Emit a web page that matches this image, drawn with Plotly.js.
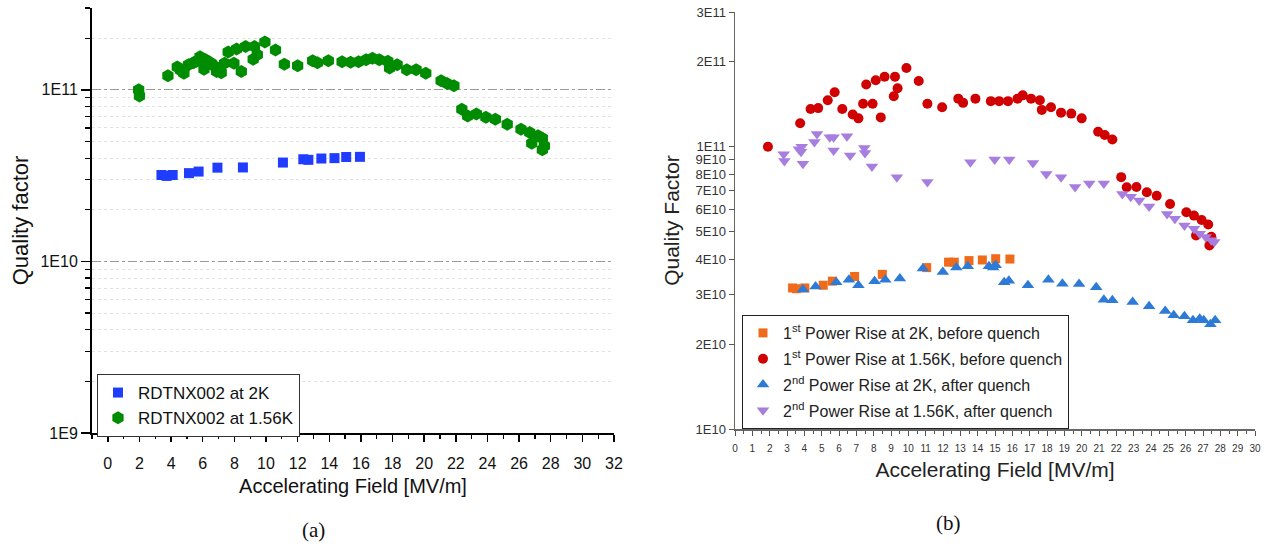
<!DOCTYPE html>
<html>
<head>
<meta charset="utf-8">
<script src="https://cdn.plot.ly/plotly-3.0.1.min.js"></script>
<style>html,body{margin:0;padding:0;background:#fff;}#chart{width:1271px;height:549px;}</style>
</head>
<body>
<div id="chart"></div>
<script>
// ---------- Panel (a) ----------
const aSeriesNames = ['RDTNX002 at 2K', 'RDTNX002 at 1.56K'];
const aE2K = [3.39, 3.72, 4.1, 5.13, 5.74, 6.93, 8.54, 11.07, 12.36, 12.68, 13.5, 14.33, 15.07, 15.94];
const aQ2K = [3.19e10, 3.15e10, 3.19e10, 3.27e10, 3.34e10, 3.52e10, 3.53e10, 3.77e10, 3.94e10, 3.91e10, 3.98e10, 4.0e10, 4.06e10, 4.07e10];
const aE156K = [1.95, 2.0, 3.8, 4.39, 4.6, 4.81, 5.1, 5.41, 5.6, 5.83, 6.08, 6.19, 6.35, 6.54, 6.7, 6.88, 7.17, 7.38, 7.61, 7.97, 8.14, 8.44, 8.71, 9.19, 9.27, 9.45, 9.93, 10.6, 11.16, 12.0, 12.95, 13.25, 13.94, 14.81, 15.35, 15.85, 16.33, 16.73, 17.16, 17.7, 17.81, 18.29, 18.9, 19.49, 20.1, 21.07, 21.45, 21.88, 22.38, 22.75, 23.3, 23.9, 24.5, 25.25, 26.12, 26.67, 26.8, 27.2, 27.47, 27.6, 27.47];
const aQ156K = [1.0e11, 0.92e11, 1.21e11, 1.36e11, 1.30e11, 1.25e11, 1.40e11, 1.44e11, 1.47e11, 1.56e11, 1.32e11, 1.50e11, 1.46e11, 1.43e11, 1.38e11, 1.28e11, 1.26e11, 1.43e11, 1.66e11, 1.43e11, 1.73e11, 1.28e11, 1.79e11, 1.51e11, 1.79e11, 1.60e11, 1.90e11, 1.71e11, 1.41e11, 1.38e11, 1.48e11, 1.44e11, 1.48e11, 1.46e11, 1.45e11, 1.46e11, 1.50e11, 1.53e11, 1.50e11, 1.47e11, 1.34e11, 1.40e11, 1.31e11, 1.31e11, 1.25e11, 1.13e11, 1.09e11, 1.055e11, 0.771e11, 0.705e11, 0.724e11, 0.693e11, 0.674e11, 0.63e11, 0.59e11, 0.564e11, 0.489e11, 0.54e11, 0.522e11, 0.471e11, 0.447e11];
const aYTickVals = [1e9, 1e10, 1e11];
const aYTickText = ['1E9', '1E10', '1E11'];
const aYMinorVals = [2e9, 3e9, 4e9, 5e9, 6e9, 7e9, 8e9, 9e9, 2e10, 3e10, 4e10, 5e10, 6e10, 7e10, 8e10, 9e10, 2e11, 3e11];

// ---------- Panel (b) ----------
const bSeriesNames = [
  '1<sup>st</sup> Power Rise at 2K, before quench',
  '1<sup>st</sup> Power Rise at 1.56K, before quench',
  '2<sup>nd</sup> Power Rise at 2K, after quench',
  '2<sup>nd</sup> Power Rise at 1.56K, after quench'
];
const bE1st2K = [3.32, 3.54, 4.03, 5.09, 5.62, 6.9, 8.5, 11.06, 12.32, 12.65, 13.5, 14.27, 15.04, 15.86];
const bQ1st2K = [3.16e10, 3.14e10, 3.16e10, 3.23e10, 3.34e10, 3.47e10, 3.53e10, 3.73e10, 3.90e10, 3.90e10, 3.95e10, 3.97e10, 4.01e10, 4.0e10];
const bE1st156K = [1.9, 3.76, 4.36, 4.8, 5.35, 5.75, 6.19, 6.79, 7.12, 7.39, 7.57, 7.94, 8.12, 8.41, 8.63, 9.16, 9.23, 9.38, 9.89, 10.6, 11.1, 11.95, 12.88, 13.16, 13.87, 14.76, 15.24, 15.75, 16.3, 16.6, 17.08, 17.59, 17.7, 18.23, 18.81, 19.4, 20.0, 20.95, 21.33, 21.77, 22.28, 22.6, 23.16, 23.76, 24.33, 25.1, 26.04, 26.48, 26.92, 27.3, 27.48, 26.6, 27.37];
const bQ1st156K = [1.0e11, 1.21e11, 1.36e11, 1.37e11, 1.46e11, 1.56e11, 1.36e11, 1.30e11, 1.26e11, 1.42e11, 1.66e11, 1.42e11, 1.72e11, 1.27e11, 1.77e11, 1.51e11, 1.77e11, 1.61e11, 1.90e11, 1.71e11, 1.42e11, 1.38e11, 1.48e11, 1.43e11, 1.48e11, 1.45e11, 1.45e11, 1.45e11, 1.48e11, 1.52e11, 1.48e11, 1.46e11, 1.35e11, 1.38e11, 1.32e11, 1.31e11, 1.26e11, 1.13e11, 1.10e11, 1.06e11, 0.78e11, 0.718e11, 0.72e11, 0.69e11, 0.67e11, 0.627e11, 0.586e11, 0.57e11, 0.55e11, 0.53e11, 0.48e11, 0.485e11, 0.447e11];
const bE2nd2K = [3.92, 4.65, 5.84, 6.57, 7.12, 8.05, 8.67, 9.51, 10.84, 11.99, 12.77, 13.43, 14.65, 14.9, 15.04, 15.53, 15.8, 16.9, 18.08, 18.89, 19.85, 20.84, 21.28, 21.77, 22.94, 23.89, 24.82, 25.31, 25.93, 26.42, 26.81, 27.04, 27.43, 27.7];
const bQ2nd2K = [3.12e10, 3.2e10, 3.31e10, 3.38e10, 3.23e10, 3.34e10, 3.38e10, 3.41e10, 3.70e10, 3.60e10, 3.73e10, 3.77e10, 3.77e10, 3.73e10, 3.80e10, 3.31e10, 3.35e10, 3.23e10, 3.38e10, 3.27e10, 3.26e10, 3.18e10, 2.87e10, 2.86e10, 2.82e10, 2.72e10, 2.62e10, 2.53e10, 2.51e10, 2.43e10, 2.46e10, 2.43e10, 2.35e10, 2.43e10];
const bE2nd156K = [2.81, 2.85, 3.69, 3.81, 3.92, 3.85, 4.58, 4.73, 5.47, 5.69, 5.69, 6.46, 6.64, 7.46, 7.5, 7.9, 9.34, 11.1, 13.58, 14.98, 15.82, 17.19, 17.96, 18.81, 19.62, 20.44, 21.28, 22.35, 22.83, 23.32, 23.89, 24.93, 25.38, 25.93, 26.48, 26.81, 27.15, 27.48, 27.65];
const bQ2nd156K = [0.94e11, 0.89e11, 0.98e11, 0.96e11, 0.87e11, 1.0e11, 1.04e11, 1.11e11, 1.08e11, 1.08e11, 0.97e11, 1.09e11, 0.93e11, 0.99e11, 0.95e11, 0.85e11, 0.78e11, 0.75e11, 0.88e11, 0.90e11, 0.90e11, 0.875e11, 0.80e11, 0.78e11, 0.72e11, 0.74e11, 0.74e11, 0.68e11, 0.665e11, 0.645e11, 0.614e11, 0.578e11, 0.556e11, 0.526e11, 0.512e11, 0.492e11, 0.479e11, 0.466e11, 0.46e11];
const bYTickVals = [1e10, 2e10, 3e10, 4e10, 5e10, 6e10, 7e10, 8e10, 9e10, 1e11, 2e11, 3e11];
const bYTickText = ['1E10', '2E10', '3E10', '4E10', '5E10', '6E10', '7E10', '8E10', '9E10', '1E11', '2E11', '3E11'];

const SANS = 'Liberation Sans, Arial, sans-serif';
const W = 1271, H = 549;
const px = v => v / W;
const py = v => 1 - v / H;

const traces = [
  {x: aE2K, y: aQ2K, name: aSeriesNames[0], type: 'scatter', mode: 'markers', xaxis: 'x', yaxis: 'y', legend: 'legend',
   marker: {symbol: 'square', size: 10, color: '#1f3cff'}},
  {x: aE156K, y: aQ156K, name: aSeriesNames[1], type: 'scatter', mode: 'markers', xaxis: 'x', yaxis: 'y', legend: 'legend',
   marker: {symbol: 'hexagon', size: 13, color: '#008c00'}},
  {x: bE1st2K, y: bQ1st2K, name: bSeriesNames[0], type: 'scatter', mode: 'markers', xaxis: 'x2', yaxis: 'y2', legend: 'legend2', legendgroup: 'g1',
   marker: {symbol: 'square', size: 9, color: '#f06a1c'}},
  {x: bE1st156K, y: bQ1st156K, name: bSeriesNames[1], type: 'scatter', mode: 'markers', xaxis: 'x2', yaxis: 'y2', legend: 'legend2', legendgroup: 'g2',
   marker: {symbol: 'circle', size: 10, color: '#d00000'}},
  {x: bE2nd2K, y: bQ2nd2K, name: bSeriesNames[2], type: 'scatter', mode: 'markers', xaxis: 'x2', yaxis: 'y2', legend: 'legend2', legendgroup: 'g3',
   marker: {symbol: 'triangle-up', size: 11, color: '#2d7bd6'}},
  {x: bE2nd156K, y: bQ2nd156K, name: bSeriesNames[3], type: 'scatter', mode: 'markers', xaxis: 'x2', yaxis: 'y2', legend: 'legend2', legendgroup: 'g4',
   marker: {symbol: 'triangle-down', size: 11, color: '#a77de0'}}
];

const layout = {
  width: W, height: H,
  margin: {l: 0, r: 0, t: 0, b: 0},
  paper_bgcolor: '#ffffff', plot_bgcolor: 'rgba(0,0,0,0)',
  font: {family: SANS, color: '#111'},
  showlegend: true,
  xaxis: {
    domain: [px(92), px(614)], anchor: 'y', range: [-1, 32],
    tick0: 0, dtick: 2, ticks: 'outside', ticklen: 7, tickwidth: 1.5, tickcolor: '#000',
    showline: true, linecolor: '#000', linewidth: 2, showgrid: false, zeroline: false,
    tickfont: {size: 16, color: '#111'}, ticklabelstandoff: 8,
    minor: {dtick: 1, ticks: 'outside', ticklen: 4, tickwidth: 1.2, tickcolor: '#000', showgrid: false},
    title: {text: 'Accelerating Field [MV/m]', font: {size: 20, color: '#111'}, standoff: 8}
  },
  yaxis: {
    domain: [py(433), py(8)], anchor: 'x', type: 'log', range: [9, Math.log10(3e11)],
    tickmode: 'array', tickvals: aYTickVals, ticktext: aYTickText,
    ticks: 'outside', ticklen: 9, tickwidth: 1.5, tickcolor: '#000',
    showline: true, linecolor: '#000', linewidth: 2, zeroline: false,
    showgrid: true, gridcolor: '#9a9a9a', gridwidth: 1, griddash: 'dashdot',
    tickfont: {size: 16, color: '#111'},
    minor: {tickmode: 'array', tickvals: aYMinorVals, ticks: 'outside', ticklen: 5, tickwidth: 1.2, tickcolor: '#000',
            showgrid: true, gridcolor: '#e2e2e2', gridwidth: 1, griddash: 'dot'},
    title: {text: 'Quality factor', font: {size: 22, color: '#111'}, standoff: 6}
  },
  xaxis2: {
    domain: [px(735), px(1255)], anchor: 'y2', range: [0, 30],
    tick0: 0, dtick: 1, ticks: 'outside', ticklen: 5, tickwidth: 1, tickcolor: '#555',
    showline: true, linecolor: '#666', linewidth: 1.5, showgrid: false, zeroline: false,
    tickfont: {size: 10, color: '#333'}, ticklabelstandoff: 4,
    minor: {dtick: 0.5, ticks: 'outside', ticklen: 3, tickwidth: 1, tickcolor: '#555', showgrid: false},
    title: {text: 'Accelerating Field [MV/m]', font: {size: 21, color: '#222'}, standoff: 10}
  },
  yaxis2: {
    domain: [py(429), py(12)], anchor: 'x2', type: 'log', range: [10, Math.log10(3e11)],
    tickmode: 'array', tickvals: bYTickVals, ticktext: bYTickText,
    ticks: 'outside', ticklen: 5, tickwidth: 1, tickcolor: '#555',
    showline: true, linecolor: '#666', linewidth: 1.5, showgrid: false, zeroline: false,
    tickfont: {size: 13, color: '#333'},
    title: {text: 'Quality Factor', font: {size: 21, color: '#222'}, standoff: 10}
  },
  legend: {
    x: px(97), y: py(374), xanchor: 'left', yanchor: 'top',
    bgcolor: '#ffffff', bordercolor: '#333', borderwidth: 1,
    font: {size: 17, color: '#111', family: SANS}
  },
  legend2: {
    x: px(742), y: py(315), xanchor: 'left', yanchor: 'top',
    bgcolor: '#ffffff', bordercolor: '#222', borderwidth: 1,
    font: {size: 16, color: '#222', family: SANS}, tracegroupgap: 2
  },
  annotations: [
    {text: '(a)', xref: 'paper', yref: 'paper', x: px(313), y: py(530), xanchor: 'center', yanchor: 'middle', showarrow: false,
     font: {family: 'Liberation Serif, DejaVu Serif, serif', size: 21, color: '#111'}},
    {text: '(b)', xref: 'paper', yref: 'paper', x: px(948), y: py(523), xanchor: 'center', yanchor: 'middle', showarrow: false,
     font: {family: 'Liberation Serif, DejaVu Serif, serif', size: 21, color: '#111'}}
  ]
};

Plotly.newPlot('chart', traces, layout, {displayModeBar: false, staticPlot: true});
</script>
</body>
</html>
